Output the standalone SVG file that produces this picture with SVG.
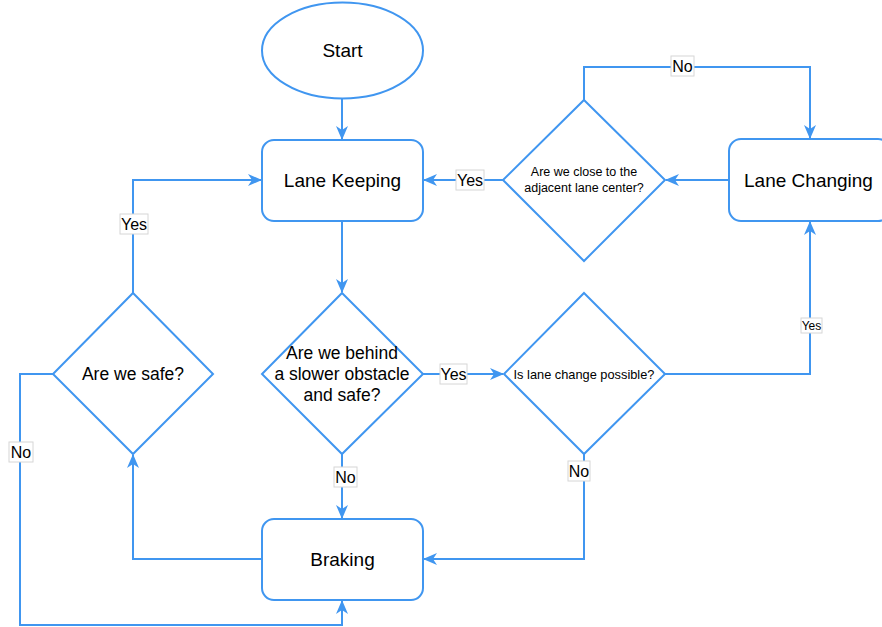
<svg xmlns="http://www.w3.org/2000/svg" width="882" height="627" viewBox="0 0 882 627">
  <style>
    .shape { fill: #ffffff; stroke: #4096f0; stroke-width: 2; }
    .edge { fill: none; stroke: #4096f0; stroke-width: 2; }
    .txt { font-family: "Liberation Sans", Arial, sans-serif; fill: #000000; text-anchor: middle; dominant-baseline: central; }
    .lbl-box { fill: #ffffff; stroke: #d6d6d6; stroke-width: 1; }
    .lbl { font-family: "Liberation Sans", Arial, sans-serif; font-size: 16px; fill: #000000; text-anchor: middle; dominant-baseline: central; }
  </style>
  <defs>
    <marker id="arrow" markerUnits="userSpaceOnUse" viewBox="0 0 14 12" refX="13" refY="6" markerWidth="14" markerHeight="12" orient="auto">
      <path d="M0,0 L14,6 L0,12 L4,6 Z" fill="#4096f0"/>
    </marker>
  </defs>
  <rect width="882" height="627" fill="#ffffff"/>

  <!-- connectors -->
  <g id="connectors">
    <path class="edge" d="M342,99 L342,139" marker-end="url(#arrow)"/>
    <path class="edge" d="M342,221 L342,292" marker-end="url(#arrow)"/>
    <path class="edge" d="M423,374 L503,374" marker-end="url(#arrow)"/>
    <path class="edge" d="M342,454 L342,518" marker-end="url(#arrow)"/>
    <path class="edge" d="M665,374 L810,374 L810,222" marker-end="url(#arrow)"/>
    <path class="edge" d="M584,454 L584,559 L424,559" marker-end="url(#arrow)"/>
    <path class="edge" d="M729,180 L666,180" marker-end="url(#arrow)"/>
    <path class="edge" d="M503,180 L424,180" marker-end="url(#arrow)"/>
    <path class="edge" d="M584,100 L584,67 L810,67 L810,138" marker-end="url(#arrow)"/>
    <path class="edge" d="M262,559 L133,559 L133,455" marker-end="url(#arrow)"/>
    <path class="edge" d="M133,293 L133,180 L261,180" marker-end="url(#arrow)"/>
    <path class="edge" d="M53,374 L20,374 L20,625 L342,625 L342,601" marker-end="url(#arrow)"/>

    <!-- edge labels -->
    <rect class="lbl-box" x="671" y="56" width="23" height="20"/>
    <text class="lbl" x="682.5" y="66">No</text>
    <rect class="lbl-box" x="456" y="170" width="28" height="20"/>
    <text class="lbl" x="470" y="180">Yes</text>
    <rect class="lbl-box" x="120" y="214" width="28" height="20"/>
    <text class="lbl" x="134" y="224">Yes</text>
    <rect class="lbl-box" x="9" y="442" width="24" height="20"/>
    <text class="lbl" x="21" y="452">No</text>
    <rect class="lbl-box" x="440" y="364" width="27" height="20"/>
    <text class="lbl" x="453.5" y="374">Yes</text>
    <rect class="lbl-box" x="334" y="467" width="23" height="20"/>
    <text class="lbl" x="345.5" y="477">No</text>
    <rect class="lbl-box" x="568" y="461" width="22" height="20"/>
    <text class="lbl" x="579" y="471">No</text>
    <rect class="lbl-box" x="801" y="318" width="21" height="15"/>
    <text class="lbl" x="811.5" y="325.5" style="font-size:12px">Yes</text>
  </g>

  <!-- nodes -->
  <g id="start">
    <ellipse class="shape" cx="342.5" cy="50.5" rx="80.5" ry="48"/>
    <text class="txt" x="342.5" y="50.5" font-size="19">Start</text>
  </g>
  <g id="lane-keeping">
    <rect class="shape" x="262" y="140" width="161" height="81" rx="12"/>
    <text class="txt" x="342.5" y="180.5" font-size="19">Lane Keeping</text>
  </g>
  <g id="lane-changing">
    <rect class="shape" x="729" y="139" width="161" height="82" rx="12"/>
    <text class="txt" x="808.5" y="180" font-size="19">Lane Changing</text>
  </g>
  <g id="close-to-center">
    <polygon class="shape" points="584,100 665,180 584,261 503,180"/>
    <text class="txt" x="584" y="172" font-size="12.5">Are we close to the</text>
    <text class="txt" x="584" y="188" font-size="12.5">adjacent lane center?</text>
  </g>
  <g id="behind-obstacle">
    <polygon class="shape" points="342,293 423,374 342,454 262,374"/>
    <text class="txt" x="342" y="353" font-size="17.5">Are we behind</text>
    <text class="txt" x="342" y="374" font-size="17.5">a slower obstacle</text>
    <text class="txt" x="342" y="395" font-size="17.5">and safe?</text>
  </g>
  <g id="lane-change-possible">
    <polygon class="shape" points="584,293 665,374 584,454 504,374"/>
    <text class="txt" x="584" y="374" font-size="12.8">Is lane change possible?</text>
  </g>
  <g id="are-we-safe">
    <polygon class="shape" points="133,293 213,374 133,454 53,374"/>
    <text class="txt" x="133" y="374" font-size="17.5">Are we safe?</text>
  </g>
  <g id="braking">
    <rect class="shape" x="262" y="519" width="161" height="81" rx="12"/>
    <text class="txt" x="342.5" y="559.5" font-size="19">Braking</text>
  </g>
</svg>
